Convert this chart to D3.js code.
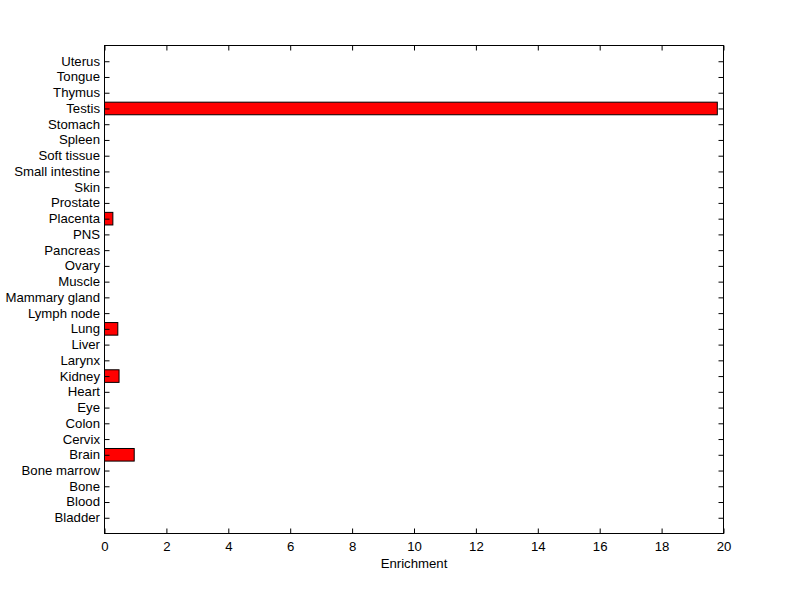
<!DOCTYPE html>
<html><head><meta charset="utf-8">
<script src="https://cdn.jsdelivr.net/npm/d3@7"></script>
<style>body{margin:0;background:#fff}svg{display:block}text{font-family:"Liberation Sans",Arial,sans-serif;font-size:13.2px;fill:#000}</style>
</head><body><svg id="c" width="800" height="599"></svg>
<script>
const categories = ["Bladder","Blood","Bone","Bone marrow","Brain","Cervix","Colon","Eye","Heart","Kidney","Larynx","Liver","Lung","Lymph node","Mammary gland","Muscle","Ovary","Pancreas","PNS","Placenta","Prostate","Skin","Small intestine","Soft tissue","Spleen","Stomach","Testis","Thymus","Tongue","Uterus"];
const values = [0,0,0,0,0.96,0,0,0,0,0.47,0,0,0.43,0,0,0,0,0,0,0.27,0,0,0,0,0,0,19.8,0,0,0];
const xTicks = [0,2,4,6,8,10,12,14,16,18,20];
const xLabel = "Enrichment";

const svg = d3.select("#c");
const L=104.5, R=723.5, T=45.5, B=533.5;
const x = d3.scaleLinear().domain([0,20]).range([L,R]);
const y = d3.scaleLinear().domain([0,categories.length+1]).range([B,T]);
const bw = 0.8;
const g = svg.append("g");
g.selectAll("rect.bar").data(values.map((v,i)=>({v,i}))).enter().filter(d=>d.v>0)
  .append("rect").attr("x",x(0)).attr("width",d=>x(d.v)-x(0))
  .attr("y",d=>y(d.i+1+bw/2)).attr("height",d=>y(d.i+1-bw/2)-y(d.i+1+bw/2))
  .attr("fill","#ff0000").attr("stroke","#000").attr("stroke-width",1);
g.append("rect").attr("x",L).attr("y",T).attr("width",R-L).attr("height",B-T).attr("fill","none").attr("stroke","#000");
const tl=5;
const xb = d3.axisBottom(x).tickValues(xTicks).tickSize(-tl).tickPadding(8).tickFormat(d3.format("d"));
const gx = svg.append("g").attr("transform",`translate(0,${B})`).call(xb);
const xt = d3.axisTop(x).tickValues(xTicks).tickSize(-tl).tickFormat("");
const gxt = svg.append("g").attr("transform",`translate(0,${T})`).call(xt);
const yTickVals = categories.map((c,i)=>i+1);
const yl = d3.axisLeft(y).tickValues(yTickVals).tickSize(-tl).tickPadding(4.5).tickFormat(d=>categories[d-1]);
const gy = svg.append("g").attr("transform",`translate(${L},0)`).call(yl);
const yr = d3.axisRight(y).tickValues(yTickVals).tickSize(-tl).tickFormat("");
const gyr = svg.append("g").attr("transform",`translate(${R},0)`).call(yr);
[gx,gxt,gy,gyr].forEach(a=>{a.select(".domain").remove();a.selectAll("line").attr("stroke","#000");a.selectAll("text").attr("font-family",null).attr("font-size",null);});
gy.selectAll("text").attr("dy","0.3em");
svg.append("text").attr("x",(L+R)/2).attr("y",568).attr("text-anchor","middle").text(xLabel);
</script></body></html>
